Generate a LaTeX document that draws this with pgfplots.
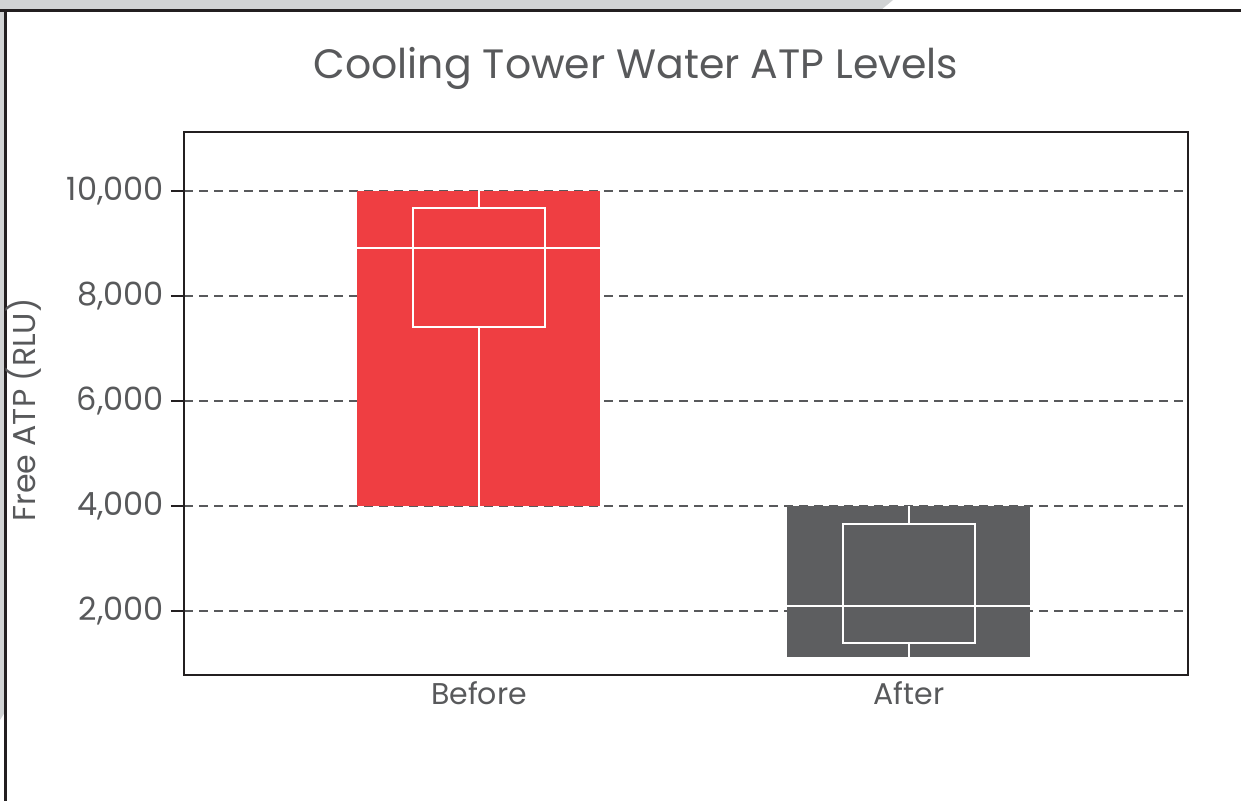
\documentclass[border=0pt]{standalone}
\usepackage{pgfplots}
\pgfplotsset{compat=1.18}
\usepackage{fontspec}
\setmainfont{Poppins}
\definecolor{tred}{HTML}{EF3E42}
\definecolor{tgray}{HTML}{5D5E60}
\definecolor{ttext}{HTML}{58595B}
\definecolor{bggray}{HTML}{D1D3D4}
\definecolor{frame}{HTML}{231F20}
\begin{document}
\begin{tikzpicture}[x=0.5pt,y=-0.5pt]
\path[use as bounding box] (0,0) rectangle (1241,801);
\fill[bggray] (0,0) -- (893,0) -- (881,10) -- (0,10) -- cycle;
\fill[bggray] (0,0) -- (5,0) -- (5,712) -- (0,720) -- cycle;
\draw[line width=1.5pt, color=frame] (0,10.5) -- (1241,10.5);
\draw[line width=1.2pt, color=frame] (5.5,10) -- (5.5,801);
\node[text=ttext, font=\fontsize{20.5}{24}\selectfont] at (636,68) {Cooling Tower Water ATP Levels};
\node[text=ttext, font=\fontsize{15.8}{18}\selectfont, rotate=90] at (24,410) {Free ATP (RLU)};
\begin{axis}[
  at={(92pt,-337.5pt)}, anchor=south west,
  scale only axis, width=502pt, height=271.5pt,
  xmin=-0.686, xmax=1.649,
  ymin=781, ymax=11124,
  xtick={0,1}, xticklabels={Before,After},
  ytick={2000,4000,6000,8000,10000},
  ytick pos=left,
  /pgf/number format/assume math mode=true,
  /pgf/number format/1000 sep={,},
  scaled y ticks=false,
  tick label style={text=ttext, font=\fontsize{15}{18}\selectfont},
  yticklabel style={font=\fontsize{16}{19}\selectfont},
  ytick style={color=frame, line width=0.6pt},
  xtick style={draw=none},
  tick align=outside,
  major tick length=6.5pt,
  ymajorgrids,
  grid style={color=ttext, dash pattern=on 4.5pt off 3pt, line width=0.55pt},
  axis line style={color=frame, line width=1pt},
  xticklabel style={yshift=6.5pt},
]
% Before
\addplot[fill=tred, draw=none] coordinates {(-0.2826,4000) (0.2826,4000) (0.2826,10000) (-0.2826,10000)} -- cycle;
\addplot[white, line width=0.7pt] coordinates {(0,4000) (0,7410)};
\addplot[white, line width=0.7pt] coordinates {(0,9676) (0,10000)};
\addplot[draw=white, line width=1.1pt] coordinates {(-0.1535,7410) (0.1535,7410) (0.1535,9676) (-0.1535,9676)} -- cycle;
\addplot[white, line width=0.7pt] coordinates {(-0.2826,8914) (0.2826,8914)};
% After
\addplot[fill=tgray, draw=none] coordinates {(0.7174,1124) (1.2826,1124) (1.2826,4000) (0.7174,4000)} -- cycle;
\addplot[white, line width=0.7pt] coordinates {(1,1124) (1,1390)};
\addplot[white, line width=0.7pt] coordinates {(1,3657) (1,4000)};
\addplot[draw=white, line width=1.1pt] coordinates {(0.8465,1390) (1.1535,1390) (1.1535,3657) (0.8465,3657)} -- cycle;
\addplot[white, line width=0.7pt] coordinates {(0.7174,2095) (1.2826,2095)};
\end{axis}
\end{tikzpicture}
\end{document}
